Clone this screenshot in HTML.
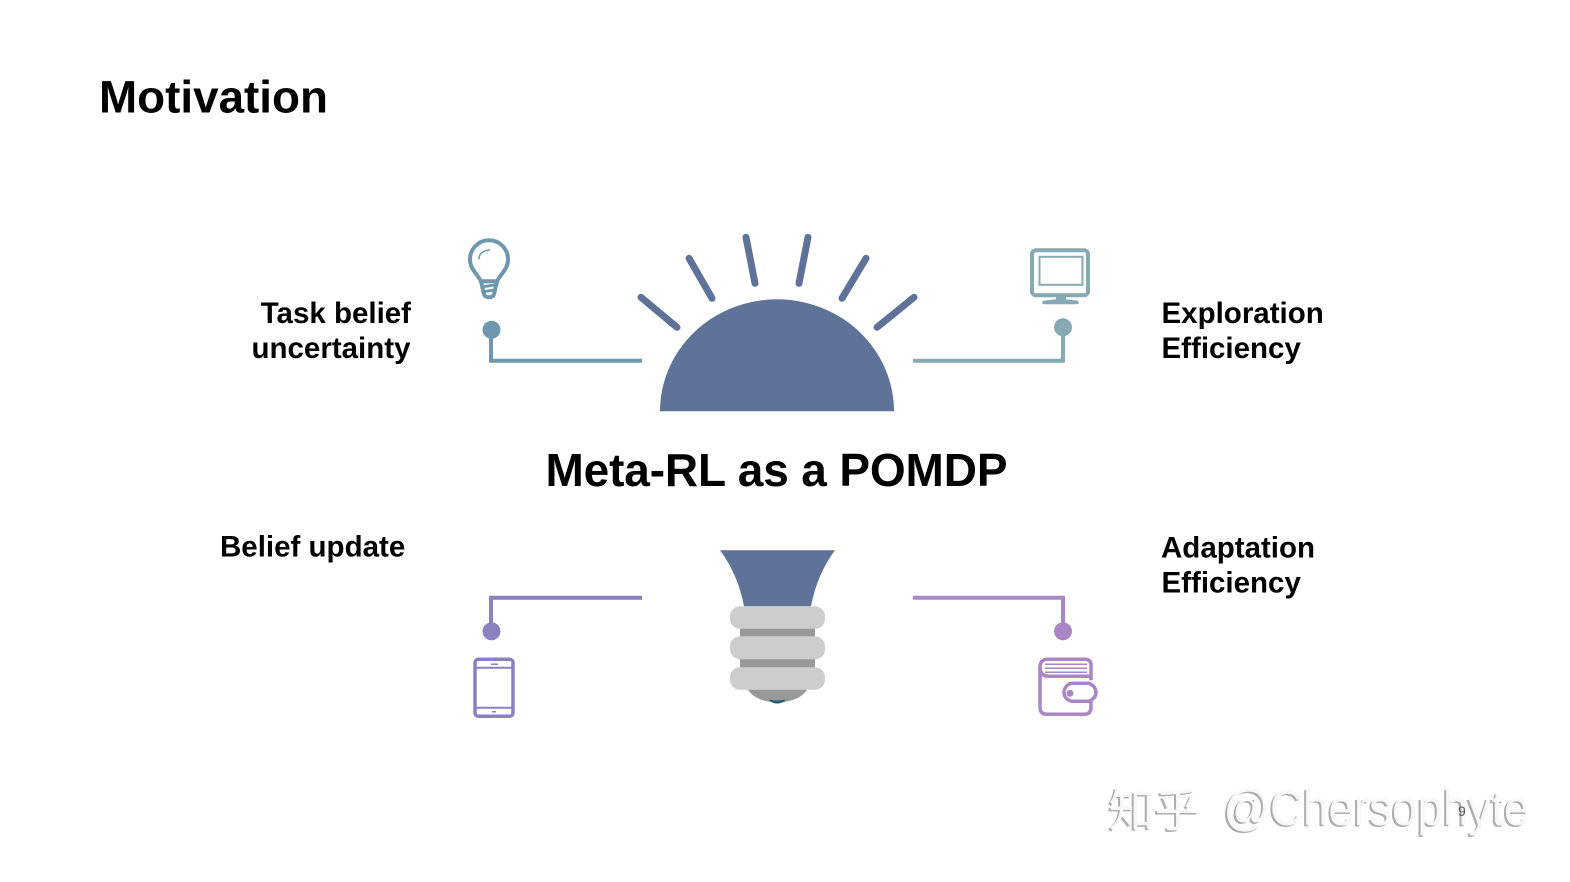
<!DOCTYPE html>
<html><head><meta charset="utf-8"><style>
html,body{margin:0;padding:0;background:#fff}
body{width:1570px;height:882px;overflow:hidden;position:relative}
svg{position:absolute;left:0;top:0}
text{font-family:"Liberation Sans",sans-serif;font-weight:bold;fill:#000}
.l{font-size:29.5px}
.cj{font-family:"Noto Sans CJK SC","WenQuanYi Zen Hei",sans-serif;font-weight:normal;font-size:46px}
.la{font-family:"Liberation Sans",sans-serif;font-weight:normal;font-size:50px}
</style></head><body>
<svg width="1570" height="882" viewBox="0 0 1570 882">
<rect width="1570" height="882" fill="#fff"/>
<text x="99" y="112.500" font-size="45.800">Motivation</text>
<text x="545.500" y="486" font-size="46" textLength="462">Meta-RL as a POMDP</text>
<text class="l" x="411" y="323" text-anchor="end">Task belief</text>
<text class="l" x="410.500" y="358" text-anchor="end">uncertainty</text>
<text class="l" x="220" y="556.500">Belief update</text>
<text class="l" x="1161.500" y="323">Exploration</text>
<text class="l" x="1161.500" y="358">Efficiency</text>
<text class="l" x="1161" y="557.500">Adaptation</text>
<text class="l" x="1161.500" y="592.500">Efficiency</text>

<g transform="translate(1 0.300)">
<!-- sun -->
<path d="M659 411A117 112 0 0 1 893 411Z" fill="#5f7399"/>
<g stroke="#5f7399" stroke-width="7" stroke-linecap="round" fill="none">
<path d="M640 297L676 327M688 258L711 298M745 237L754 283M807 237L798 283M865 258L841 298M913 297L876 327"/>
</g>

<!-- bulb base -->
<path d="M719 550H834C822 566 814 585 810 606H743C739 585 731 566 719 550Z" fill="#5f7399"/>
<rect x="739" y="620" width="75" height="50" fill="#999"/>
<path d="M745 686H808C804 696 792 702 776 702C761 702 749 696 745 686Z" fill="#999"/>
<path d="M769 700Q776 705 784 700Q776 702 769 700Z" fill="#1f6068" stroke="#1f6068" stroke-width="1.500"/>
<g fill="#cdcdcd">
<rect x="729" y="606" width="95" height="22.500" rx="10"/>
<rect x="729" y="636" width="95" height="23" rx="10"/>
<rect x="729" y="667" width="95" height="22.500" rx="10"/>
</g>

<!-- connectors -->
<path d="M641 360.500H490V329" fill="none" stroke="#6f98ad" stroke-width="4"/>
<circle cx="490.500" cy="329.500" r="9" fill="#6f98ad"/>
<path d="M912 360.500H1062V327" fill="none" stroke="#86a9b3" stroke-width="4"/>
<circle cx="1062" cy="327" r="9" fill="#86a9b3"/>
<path d="M641 597.500H490V631" fill="none" stroke="#8a82c0" stroke-width="4"/>
<circle cx="490.500" cy="631" r="9" fill="#8a82c0"/>
<path d="M912 597.500H1062V631" fill="none" stroke="#a986c4" stroke-width="4"/>
<circle cx="1062" cy="631" r="9" fill="#a986c4"/>

<!-- lightbulb icon -->
<g fill="none" stroke="#6f98ad" stroke-width="4">
<path d="M480 281C476 273 469 269 469 259A19 19 0 0 1 507 259C507 269 500 273 496 281Z"/>
<path d="M480 281L483 294Q484 297 488 297Q492 297 493 294L496 281"/>
<path d="M481 286.500L495 284.500M482 291.500L494 289.500" stroke-width="3"/>
<path d="M478 259C478 254 480 251 489 249.500" stroke-width="1.500"/>
</g>

<!-- monitor icon -->
<g fill="none" stroke="#86a9b3">
<rect x="1031" y="250" width="56" height="45" rx="4" stroke-width="4"/>
<rect x="1038.500" y="256.500" width="43" height="28" stroke-width="2"/>
</g>
<path d="M1055 296H1065V299L1077 300.500Q1079 304 1076 304H1043Q1040 304 1042 300.500L1055 299Z" fill="#86a9b3"/>

<!-- tablet icon -->
<g fill="none" stroke="#8a82c0">
<rect x="474" y="659" width="38" height="57" rx="3.500" stroke-width="3.500"/>
<path d="M475 667.500H511M475 707.500H511" stroke-width="2"/>
<path d="M490 664H497M491 711.500H495" stroke-width="1.500"/>
</g>

<!-- wallet icon -->
<g fill="none" stroke="#a986c4">
<path d="M1062 714H1046Q1039 714 1039 707V667Q1039 659 1047 659H1084Q1090 659 1090 665V680" stroke-width="3.500"/>
<path d="M1039 667Q1039 676 1048 676H1089" stroke-width="3.500"/>
<path d="M1044 664H1086M1044 668H1086M1044 672H1086" stroke-width="1.500"/>
<path d="M1090 696V707Q1090 714 1083 714H1060" stroke-width="3.500"/>
<path d="M1072 683H1088Q1095 686 1095 692Q1095 698 1088 701H1072A9 9 0 0 1 1072 683Z" stroke-width="3.500" fill="#fff"/>
</g>
<circle cx="1069" cy="693" r="3.500" fill="#a986c4"/>
</g>

<!-- watermark -->
<g style="fill:#adadad">
<text class="cj" x="1106.500" y="828" style="fill:#adadad">知乎</text>
<text class="la" x="1221.500" y="826.500" textLength="306" lengthAdjust="spacingAndGlyphs" style="fill:#adadad">@Chersophyte</text>
</g>
<text class="cj" x="1108.500" y="826.500" style="fill:#f8f8f8">知乎</text>
<text class="la" x="1223.500" y="825" textLength="306" lengthAdjust="spacingAndGlyphs" style="fill:#f8f8f8">@Chersophyte</text>
<text x="1458" y="816" font-size="14" style="font-weight:normal;fill:#555">9</text>
</svg>
</body></html>
